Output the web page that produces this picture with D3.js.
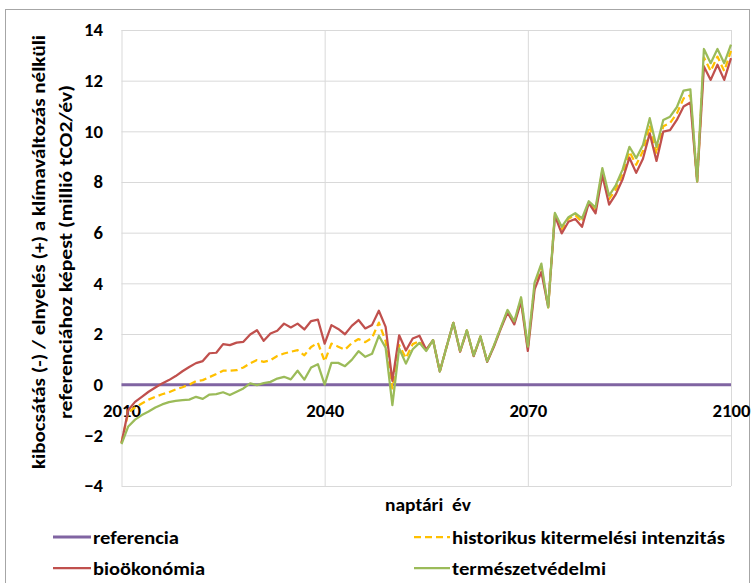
<!DOCTYPE html>
<html>
<head>
<meta charset="utf-8">
<script src="https://cdn.jsdelivr.net/npm/d3@7"></script>
<style>
  body { margin: 0; background: #fff; }
  svg { display: block; }
  text { font-family: Carlito, "Liberation Sans", Arial, sans-serif; font-weight: bold; fill: #000; }
</style>
</head>
<body>
<svg id="chart" width="756" height="583"></svg>
<script>
// Calendar years on the x axis
const years = d3.range(2010, 2101);

// Emission (-) / sequestration (+) relative to the no-climate-change reference, million tCO2/year
const referencia = [
  0,0,0,0,0,0,0,0,0,0, 0,0,0,0,0,0,0,0,0,0,
  0,0,0,0,0,0,0,0,0,0, 0,0,0,0,0,0,0,0,0,0,
  0,0,0,0,0,0,0,0,0,0, 0,0,0,0,0,0,0,0,0,0,
  0,0,0,0,0,0,0,0,0,0, 0,0,0,0,0,0,0,0,0,0,
  0,0,0,0,0,0,0,0,0,0, 0
];

const historikus = [
  -2.3,-1.1,-0.9,-0.74,-0.59,-0.48,-0.38,-0.3,-0.19,-0.1,
  0.0,0.14,0.18,0.3,0.42,0.55,0.55,0.57,0.68,0.84,
  0.97,0.9,0.97,1.13,1.23,1.3,1.36,1.16,1.49,1.65,
  0.92,1.62,1.5,1.38,1.64,1.8,1.68,1.85,2.45,1.72,
  -0.15,1.56,1.05,1.6,1.72,1.35,1.76,0.52,1.49,2.44,
  1.32,2.14,1.14,1.9,0.91,1.53,2.23,2.9,2.45,3.38,
  1.42,3.92,4.65,3.05,6.74,6.13,6.55,6.7,6.42,7.2,
  6.88,8.45,7.32,7.72,8.33,9.2,8.68,9.22,10.24,9.1,
  10.2,10.33,10.7,11.3,11.42,8.02,12.92,12.38,12.95,12.38,
  13.18
];

const biookonomia = [
  -2.3,-1.0,-0.68,-0.48,-0.28,-0.11,0.05,0.18,0.34,0.53,
  0.70,0.85,0.93,1.24,1.26,1.60,1.56,1.66,1.69,1.98,
  2.15,1.73,2.02,2.13,2.41,2.26,2.41,2.18,2.51,2.57,
  1.62,2.35,2.20,1.99,2.32,2.55,2.22,2.36,2.92,2.28,
  0.15,1.95,1.35,1.82,1.93,1.38,1.76,0.52,1.49,2.44,
  1.30,2.13,1.13,1.89,0.90,1.50,2.20,2.85,2.38,3.28,
  1.33,3.76,4.45,3.07,6.66,5.97,6.43,6.54,6.23,7.17,
  6.76,8.27,7.11,7.52,8.11,8.96,8.36,8.92,9.92,8.83,
  9.99,10.05,10.45,10.98,11.14,8.02,12.56,12.03,12.63,12.03,
  12.89
];

const termeszetvedelmi = [
  -2.35,-1.65,-1.38,-1.2,-1.06,-0.9,-0.78,-0.69,-0.64,-0.61,
  -0.59,-0.48,-0.56,-0.39,-0.37,-0.3,-0.41,-0.28,-0.15,0.05,
  -0.02,0.06,0.11,0.24,0.31,0.21,0.55,0.2,0.68,0.81,
  0.0,0.86,0.86,0.73,0.98,1.32,1.1,1.22,1.93,1.46,
  -0.81,1.43,0.83,1.4,1.65,1.33,1.76,0.52,1.49,2.44,
  1.33,2.15,1.15,1.91,0.92,1.55,2.25,2.95,2.5,3.45,
  1.5,4.03,4.78,3.05,6.78,6.23,6.61,6.77,6.56,7.24,
  6.99,8.55,7.46,7.88,8.5,9.39,8.94,9.46,10.52,9.39,
  10.45,10.58,10.95,11.61,11.66,8.02,13.25,12.69,13.25,12.69,
  13.42
];

const xTickValues = [2010, 2040, 2070, 2100];
const yTickValues = [-4, -2, 0, 2, 4, 6, 8, 10, 12, 14];

const seriesNames = ["referencia", "historikus kitermelési intenzitás", "bioökonómia", "természetvédelmi"];
const seriesColors = ["#8064A2", "#FFC000", "#C0504D", "#9BBB59"];

const yTitleLines = [
  "kibocsátás (-) / elnyelés (+) a klímaváltozás nélküli",
  "referenciához képest (millió tCO2/év)"
];
const xTitle = "naptári  év";

// ---- layout ----
const svg = d3.select("#chart");
const plot = { left: 121.5, right: 731, top: 30, bottom: 486 };
const fontSize = "18.7px";

const x = d3.scaleLinear().domain([2010, 2100]).range([plot.left, plot.right]);
const y = d3.scaleLinear().domain([-4, 14]).range([plot.bottom, plot.top]);

// outer chart frame
svg.append("rect")
  .attr("x", 5.5).attr("y", 9.5)
  .attr("width", 744).attr("height", 600)
  .attr("fill", "none").attr("stroke", "#A6A6A6").attr("stroke-width", 1);

// horizontal gridlines
const yGrid = svg.append("g")
  .attr("transform", `translate(${plot.left},0)`)
  .call(d3.axisLeft(y).tickValues(yTickValues).tickSize(-(plot.right - plot.left)).tickFormat(""));
yGrid.select(".domain").remove();
yGrid.selectAll("line").attr("stroke", "#D9D9D9").attr("stroke-width", 1);

// vertical gridlines (including the value axis line at 2010)
const xGrid = svg.append("g")
  .attr("transform", `translate(0,${plot.bottom})`)
  .call(d3.axisBottom(x).tickValues(xTickValues).tickSize(-(plot.bottom - plot.top)).tickFormat(""));
xGrid.select(".domain").remove();
xGrid.selectAll("line").attr("stroke", "#D9D9D9").attr("stroke-width", 1);

// y tick labels
const yAxis = svg.append("g")
  .attr("transform", `translate(${plot.left},0)`)
  .call(d3.axisLeft(y).tickValues(yTickValues).tickSize(0).tickPadding(18.5).tickFormat(d3.format("d")));
yAxis.select(".domain").remove();
yAxis.attr("font-family", null).attr("font-size", null);
yAxis.selectAll("text").style("font-size", fontSize);

// x tick labels sit under the zero line
const xAxis = svg.append("g")
  .attr("transform", `translate(0,${y(0)})`)
  .call(d3.axisBottom(x).tickValues(xTickValues).tickSize(0).tickPadding(19.5).tickFormat(d3.format("d")));
xAxis.select(".domain").remove();
xAxis.attr("font-family", null).attr("font-size", null);
xAxis.selectAll("text").style("font-size", fontSize);

// series lines
const line = d3.line()
  .x((d, i) => x(years[i]))
  .y(d => y(d));

const seriesData = [referencia, historikus, biookonomia, termeszetvedelmi];
const seriesWidths = [3, 2.25, 2.25, 2.25];
const seriesDash = [null, "7,4", null, null];

seriesData.forEach((vals, k) => {
  svg.append("path")
    .datum(vals)
    .attr("d", line)
    .attr("fill", "none")
    .attr("stroke", seriesColors[k])
    .attr("stroke-width", seriesWidths[k])
    .attr("stroke-dasharray", seriesDash[k])
    .attr("stroke-linejoin", "round");
});

// y axis title (two rotated lines)
const yTitleWidths = [434, 334];
const yTitleX = [38, 65];
yTitleLines.forEach((t, k) => {
  svg.append("text")
    .attr("transform", `translate(${yTitleX[k]},252) rotate(-90)`)
    .attr("text-anchor", "middle")
    .attr("dy", "0.35em")
    .attr("textLength", yTitleWidths[k])
    .attr("lengthAdjust", "spacingAndGlyphs")
    .style("font-size", fontSize)
    .text(t);
});

// x axis title
svg.append("text")
  .attr("x", 428).attr("y", 504)
  .attr("text-anchor", "middle")
  .attr("dy", "0.35em")
  .attr("textLength", 86)
  .attr("lengthAdjust", "spacingAndGlyphs")
  .style("font-size", fontSize)
  .style("white-space", "pre")
  .text(xTitle);

// legend: two columns, two rows
const legendPos = [
  { lx: 53, tx: 93, y: 537, w: 86 },
  { lx: 414, tx: 452, y: 537, w: 273 },
  { lx: 53, tx: 93, y: 568, w: 112 },
  { lx: 414, tx: 452, y: 568, w: 154 }
];
legendPos.forEach((p, k) => {
  svg.append("line")
    .attr("x1", p.lx).attr("x2", p.tx - 2)
    .attr("y1", p.y).attr("y2", p.y)
    .attr("stroke", seriesColors[k])
    .attr("stroke-width", seriesWidths[k])
    .attr("stroke-dasharray", seriesDash[k]);
  svg.append("text")
    .attr("x", p.tx).attr("y", p.y)
    .attr("dy", "0.35em")
    .attr("textLength", p.w)
    .attr("lengthAdjust", "spacingAndGlyphs")
    .style("font-size", fontSize)
    .text(seriesNames[k]);
});
</script>
</body>
</html>
